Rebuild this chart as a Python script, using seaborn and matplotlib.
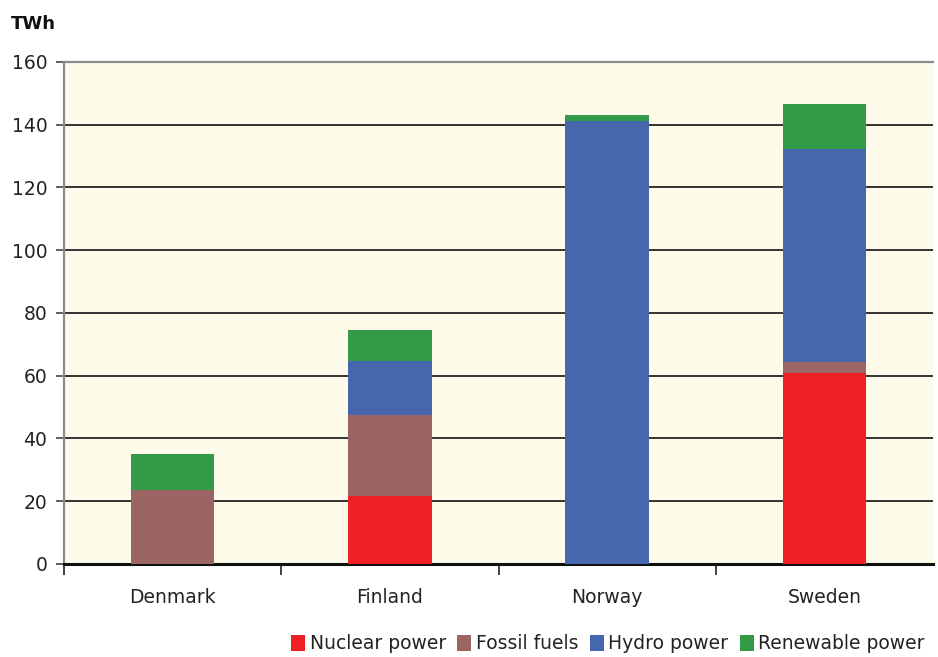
import matplotlib
matplotlib.use("Agg")
import matplotlib.pyplot as plt
from matplotlib.patches import Patch
import numpy as np
import pandas as pd
import seaborn as sns

countries = ["Denmark", "Finland", "Norway", "Sweden"]
nuclear = [0.0, 21.6, 0.0, 61.0]
fossil = [23.5, 25.9, 0.0, 3.4]
hydro = [0.0, 17.1, 141.1, 68.0]
renewable = [11.4, 9.9, 1.9, 14.1]

sources = ["Nuclear power", "Fossil fuels", "Hydro power", "Renewable power"]
colors = ["#EE2026", "#9A6563", "#4666AE", "#339B47"]
yticks = [0, 20, 40, 60, 80, 100, 120, 140, 160]

df = pd.DataFrame({"country": countries, "Nuclear power": nuclear,
                   "Fossil fuels": fossil, "Hydro power": hydro,
                   "Renewable power": renewable})
cum = df[sources].cumsum(axis=1)
cum["country"] = df["country"]

sns.set_theme(style="ticks")
plt.rcParams["font.family"] = ["DejaVu Sans"]

fig = plt.figure(figsize=(9.38, 6.57), dpi=100)
ax = fig.add_axes([0.0682, 0.1416, 0.9265, 0.7641])
ax.set_facecolor("#FFFBEA")

# stacked bars: draw cumulative totals from the top segment down
for src, col in reversed(list(zip(sources, colors))):
    sns.barplot(data=cum, x="country", y=src, color=col, width=0.385,
                saturation=1, ax=ax, zorder=3, edgecolor="none", linewidth=0)

ax.set_ylim(0, 160)
ax.set_xlim(-0.5, 3.5)
ax.set_yticks(yticks)
ax.set_yticklabels([str(v) for v in yticks], fontsize=13.5, color="#222222")
ax.yaxis.grid(True, color="#333333", linewidth=1.4, zorder=1)
ax.set_axisbelow(True)
ax.set_xlabel("")
ax.set_ylabel("")

ax.tick_params(axis="x", which="major", length=0, labelsize=13.5,
               labelcolor="#222222", pad=17)
ax.set_xticks([-0.5, 0.5, 1.5, 2.5], minor=True)
ax.tick_params(axis="x", which="minor", bottom=True, length=8, width=1.3,
               color="#333333", direction="out")
ax.tick_params(axis="y", which="major", left=True, length=6, width=1.2,
               color="#444444", pad=6, direction="out")

for side in ["left", "top", "right"]:
    ax.spines[side].set_color("#8a8a8a")
    ax.spines[side].set_linewidth(1.6)
ax.spines["right"].set_visible(False)
ax.spines["bottom"].set_color("#111111")
ax.spines["bottom"].set_linewidth(2.2)

fig.text(0.012, 0.963, "TWh", fontsize=13, fontweight="bold", color="#111111",
         ha="left", va="center")

handles = [Patch(facecolor=c, edgecolor="none") for c in colors]
fig.legend(handles, sources, loc="lower right", bbox_to_anchor=(1.004, -0.02),
           ncol=4, frameon=False, fontsize=13.5, handlelength=0.75,
           handleheight=0.9, handletextpad=0.25, columnspacing=0.6,
           labelcolor="#222222")

fig.savefig("out.png", dpi=100)
